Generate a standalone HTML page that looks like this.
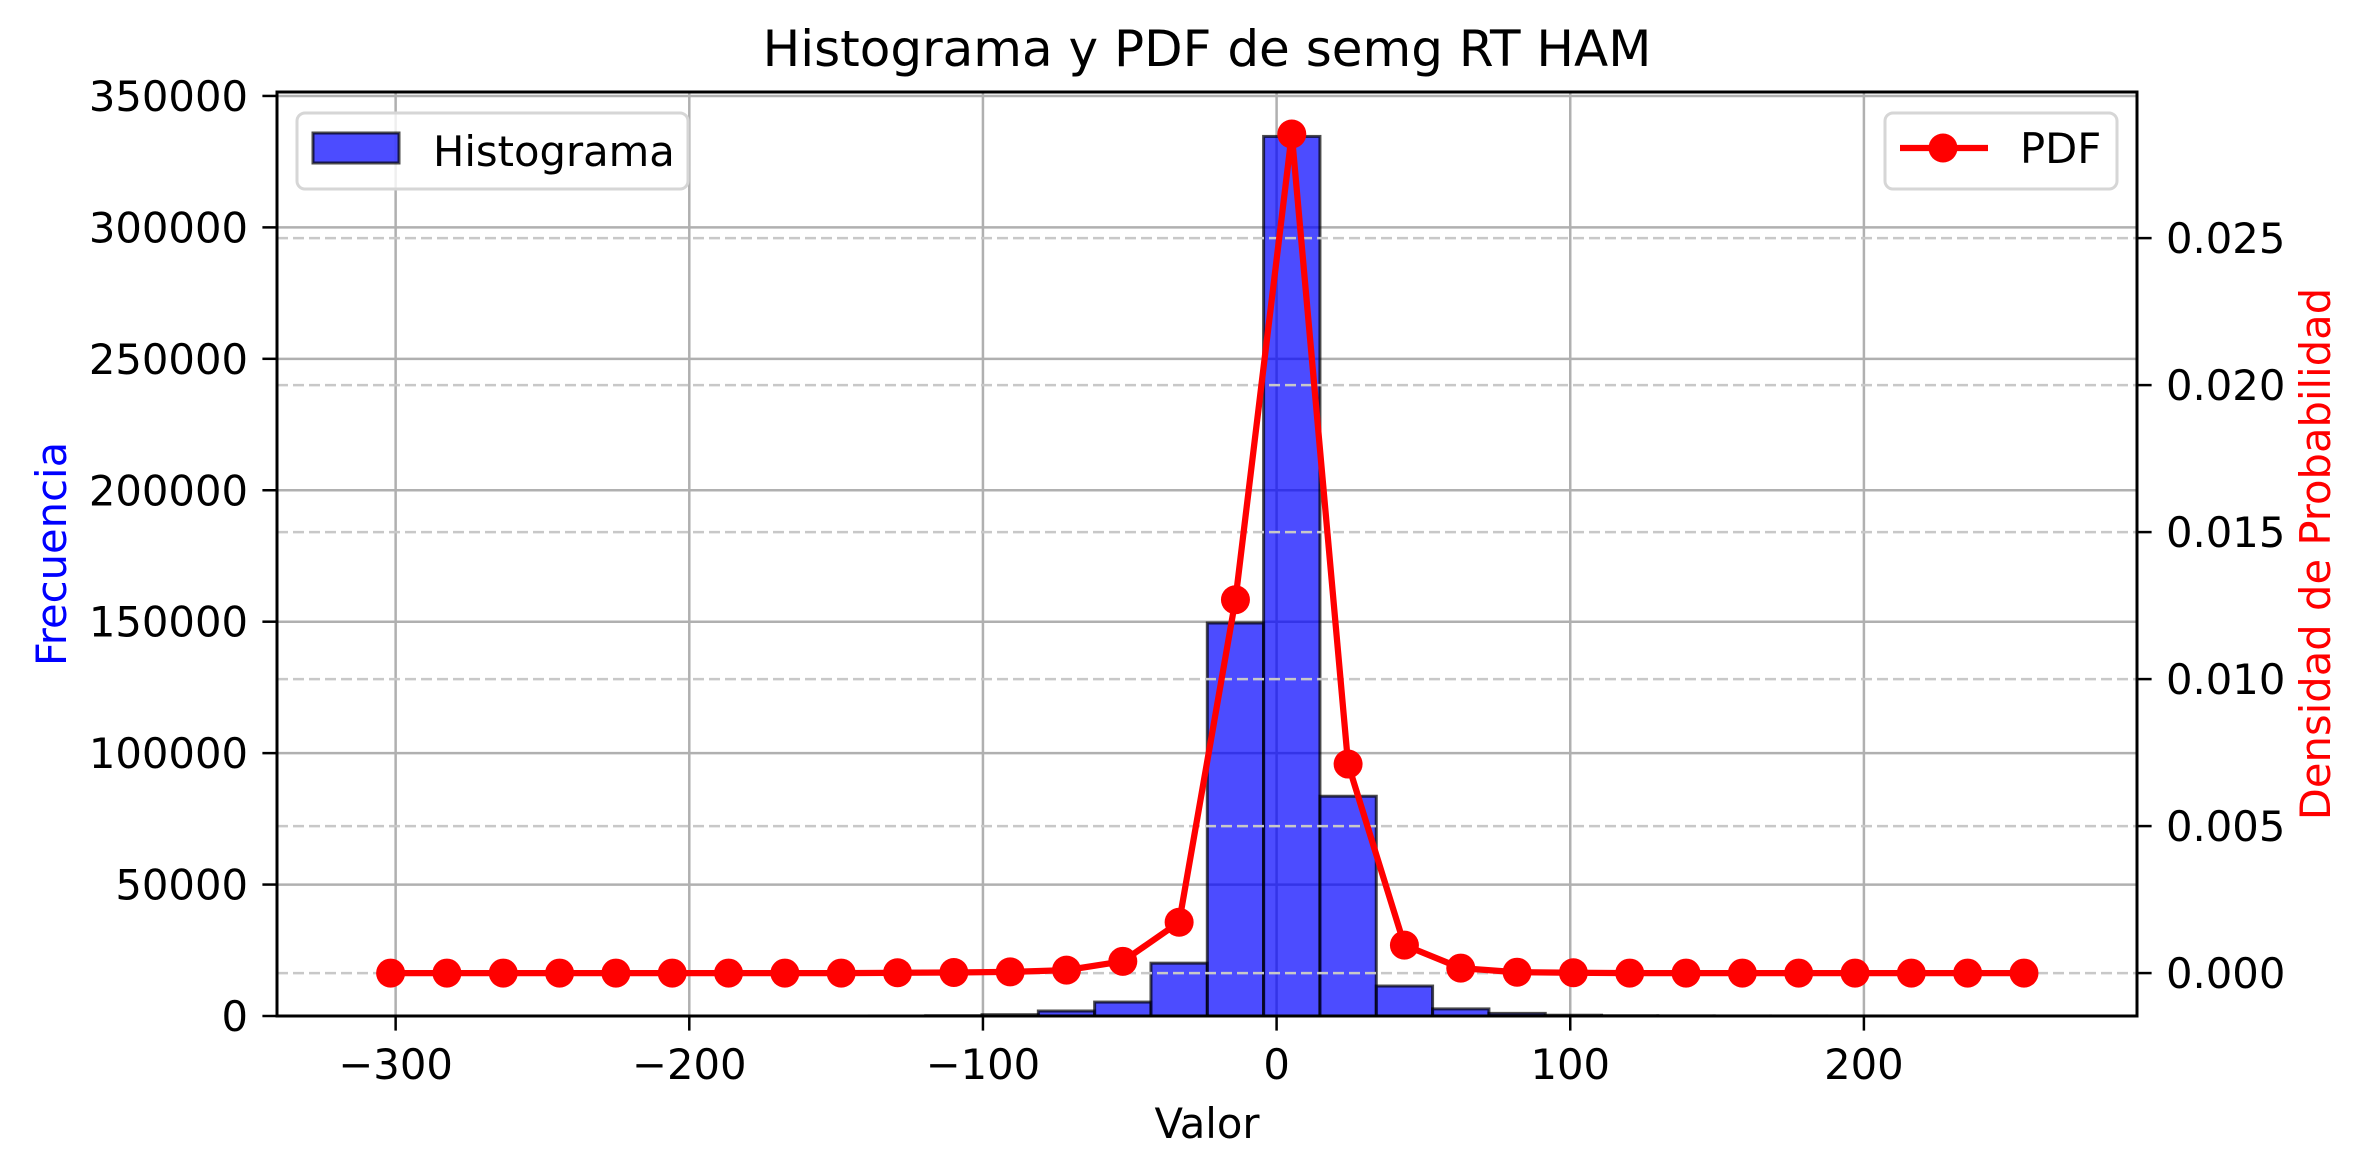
<!DOCTYPE html>
<html><head><meta charset="utf-8"><style>
html,body{margin:0;padding:0;background:#fff;}
svg{display:block;font-family:"DejaVu Sans","Liberation Sans",sans-serif;}
</style></head><body>
<svg id="chart" width="2374" height="1176" viewBox="0 0 2374 1176" xmlns="http://www.w3.org/2000/svg">
<rect x="0" y="0" width="2374" height="1176" fill="#fff"/>
<g id="grid1"></g><g id="bars"></g><g id="grid2"></g><g id="pdf"></g><g id="axes"></g><g id="legends"></g>
<text x="1207" y="66" font-size="50" text-anchor="middle">Histograma y PDF de semg RT HAM</text>
<text x="1207" y="1138" font-size="41.7" text-anchor="middle">Valor</text>
<text transform="translate(66,554) rotate(-90)" font-size="41.7" text-anchor="middle" fill="#0000ff">Frecuencia</text>
<text transform="translate(2330,554) rotate(-90)" font-size="41.7" text-anchor="middle" fill="#ff0000">Densidad de Probabilidad</text>
</svg>
<script>
const binStart = -311.3;
const binWidth = 19.18;
const counts = [0,0,0,0,0,0,0,0,0,10,100,500,1900,5300,20100,149500,334600,83600,11400,2700,1000,300,100,50,20,10,5,0,0,0];
const pdfValues = [0,0,0,0,0,0,0,0,0,0.00001,0.00002,0.00004,0.0001,0.0004,0.00173,0.0127,0.02854,0.00711,0.00095,0.00017,0.00003,0.00001,0,0,0,0,0,0,0,0];
const xTicks = [-300,-200,-100,0,100,200];
const xTickLabels = ["\u2212300","\u2212200","\u2212100","0","100","200"];
const yTicksLeft = [0,50000,100000,150000,200000,250000,300000,350000];
const yTicksRight = [0,0.005,0.010,0.015,0.020,0.025];
const yTickLabelsRight = ["0.000","0.005","0.010","0.015","0.020","0.025"];

const L=277,R=2137,T=92,B=1016;
const xMin=-340.4,xMax=293.0,y1Max=351500,y2Min=-0.00146,y2Max=0.02997;
const X=v=>L+(v-xMin)/(xMax-xMin)*(R-L);
const Y1=v=>B-v/y1Max*(B-T);
const Y2=v=>B-(v-y2Min)/(y2Max-y2Min)*(B-T);
const NS="http://www.w3.org/2000/svg";
function mk(tag,attrs,parent){const e=document.createElementNS(NS,tag);for(const k in attrs)e.setAttribute(k,attrs[k]);parent.appendChild(e);return e;}
const g1=document.getElementById('grid1'),gb=document.getElementById('bars'),g2=document.getElementById('grid2'),gp=document.getElementById('pdf'),ga=document.getElementById('axes'),gl=document.getElementById('legends');

xTicks.forEach((v,i)=>{
  const l=mk('line',{x1:X(v),x2:X(v),y1:T,y2:B,stroke:'#b0b0b0','stroke-width':2.5},g1);
  
  
  const t=mk('line',{x1:X(v),x2:X(v),y1:B,y2:B+14.6,stroke:'#000','stroke-width':2.5},ga);
  
  
  const tx=mk('text',{x:X(v),y:1079,'font-size':41.7,'text-anchor':'middle'},ga);
  tx.textContent=xTickLabels[i];
  
  
});
yTicksLeft.forEach(v=>{
  const l=mk('line',{x1:L,x2:R,y1:Y1(v),y2:Y1(v),stroke:'#b0b0b0','stroke-width':2.5},g1);
  
  
  const t=mk('line',{x1:L-14.6,x2:L,y1:Y1(v),y2:Y1(v),stroke:'#000','stroke-width':2.5},ga);
  
  
  const tx=mk('text',{x:L-29,y:Y1(v)+15,'font-size':41.7,'text-anchor':'end'},ga);
  tx.textContent=String(v);
  
  
});
counts.forEach((c,k)=>{
  const x0=X(binStart+k*binWidth),x1=X(binStart+(k+1)*binWidth);
  const r=mk('rect',{x:x0,y:Y1(c),width:x1-x0,height:Y1(0)-Y1(c),fill:'rgba(0,0,255,0.7)',stroke:'rgba(0,0,0,0.7)','stroke-width':3},gb);
  
  
});
yTicksRight.forEach((v,i)=>{
  const l=mk('line',{x1:L,x2:R,y1:Y2(v),y2:Y2(v),stroke:'#c8c8c8','stroke-width':2.5,'stroke-dasharray':'11,5'},g2);
  
  
  const t=mk('line',{x1:R,x2:R+14.6,y1:Y2(v),y2:Y2(v),stroke:'#000','stroke-width':2.5},ga);
  
  
  const tx=mk('text',{x:R+29,y:Y2(v)+15,'font-size':41.7},ga);
  tx.textContent=yTickLabelsRight[i];
  
  
});
const pts=pdfValues.map((v,k)=>[X(binStart+(k+0.5)*binWidth),Y2(v)]);
const pl=mk('polyline',{points:pts.map(p=>p.join(',')).join(' '),fill:'none',stroke:'#ff0000','stroke-width':6.25,'stroke-linejoin':'round'},gp);


pts.forEach(p=>{
  const c=mk('circle',{cx:p[0],cy:p[1],r:14.5,fill:'#ff0000'},gp);
  
  
});
const fr=mk('rect',{x:L,y:T,width:R-L,height:B-T,fill:'none',stroke:'#000','stroke-width':3},ga);



// legends
const lg1=mk('g',{},gl);


mk('rect',{x:297,y:113,width:391,height:76,rx:8,fill:'rgba(255,255,255,0.8)',stroke:'#d6d6d6','stroke-width':3},lg1);
mk('rect',{x:313,y:133,width:86,height:30,fill:'rgba(0,0,255,0.7)',stroke:'rgba(0,0,0,0.7)','stroke-width':3},lg1);
const t1=mk('text',{x:433,y:166,'font-size':41.7},lg1);t1.textContent='Histograma';
const lg2=mk('g',{},gl);


mk('rect',{x:1885,y:113,width:232,height:76,rx:8,fill:'rgba(255,255,255,0.8)',stroke:'#d6d6d6','stroke-width':3},lg2);
mk('line',{x1:1900,x2:1988,y1:148,y2:148,stroke:'#ff0000','stroke-width':6.25},lg2);
mk('circle',{cx:1943,cy:148,r:14.5,fill:'#ff0000'},lg2);
const t2=mk('text',{x:2020,y:163,'font-size':41.7},lg2);t2.textContent='PDF';
</script>
</body></html>
